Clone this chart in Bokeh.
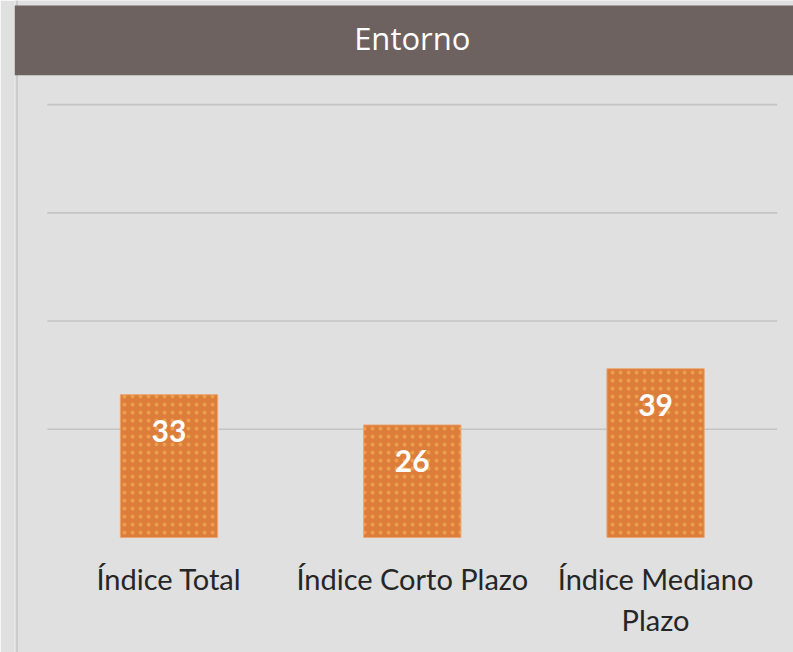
from bokeh.plotting import figure
from bokeh.models import Range1d, BoxAnnotation, Label, Span, ColumnDataSource
from bokeh.core.properties import value
from bokeh.embed import file_html
from bokeh.resources import INLINE

# ---- data ----
categories = ["Índice Total", "Índice Corto Plazo", "Índice Mediano\nPlazo"]
values = [33, 26, 39]
grid_ticks = [25, 50, 75, 100]
title_text = "Entorno"

# ---- styles / layout constants ----
BG = "#e0e0e0"
BAR = "#dc7d3c"
DOT = "#f6b651"
TITLE_BG = "#6e6260"
GRID = "#c4c4c4"
X0, X1 = -0.635, 2.567
Y0, Y1 = -26.56, 124.05

idx = list(range(len(categories)))

p = figure(width=793, height=652,
           x_range=Range1d(X0, X1), y_range=Range1d(Y0, Y1),
           output_backend="svg", toolbar_location=None,
           x_axis_location=None, y_axis_location=None,
           min_border=0, min_border_left=14,
           background_fill_color=BG, border_fill_color=BG,
           outline_line_color=None)
p.grid.visible = False

# left border line
p.add_layout(Span(location=X0 + 2.5 / 243.3, dimension="height",
                  line_color="#cbcbcb", line_width=2))

# title bar
p.add_layout(BoxAnnotation(bottom=106.8, top=122.9, fill_color=TITLE_BG,
                           fill_alpha=1.0, line_color=None))
p.add_layout(Label(x=sum(idx) / len(idx), y=115.3, text=title_text,
                   text_align="center", text_baseline="middle",
                   text_color="white", text_font="Open Sans",
                   text_font_size="31px"))

# gridlines (span the category band)
n = len(categories)
p.segment(x0=[-0.5] * len(grid_ticks), x1=[n - 0.5] * len(grid_ticks),
          y0=grid_ticks, y1=grid_ticks, line_color=GRID, line_width=1.6)

src = ColumnDataSource(dict(x=idx, top=values, cat=categories,
                            lbl=[str(v) for v in values]))

p.vbar(x="x", top="top", bottom=0, width=0.4, source=src,
       fill_color=BAR, line_color="#eba874", line_width=1,
       hatch_pattern="dot", hatch_color=DOT, hatch_scale=8, hatch_weight=1,
       hatch_alpha=0.6)

p.text(x="x", y="top", text="lbl", source=src, y_offset=36,
       text_align="center", text_baseline="middle",
       text_color="white", text_font=value("Lato"), text_font_style="bold",
       text_font_size="30px")

p.text(x="x", y=0, text="cat", source=src, y_offset=23,
       text_align="center", text_baseline="top",
       text_color="#262626", text_font=value("Lato"),
       text_font_size="29px", text_line_height=1.19)

open("out.html", "w").write(file_html(p, INLINE))
